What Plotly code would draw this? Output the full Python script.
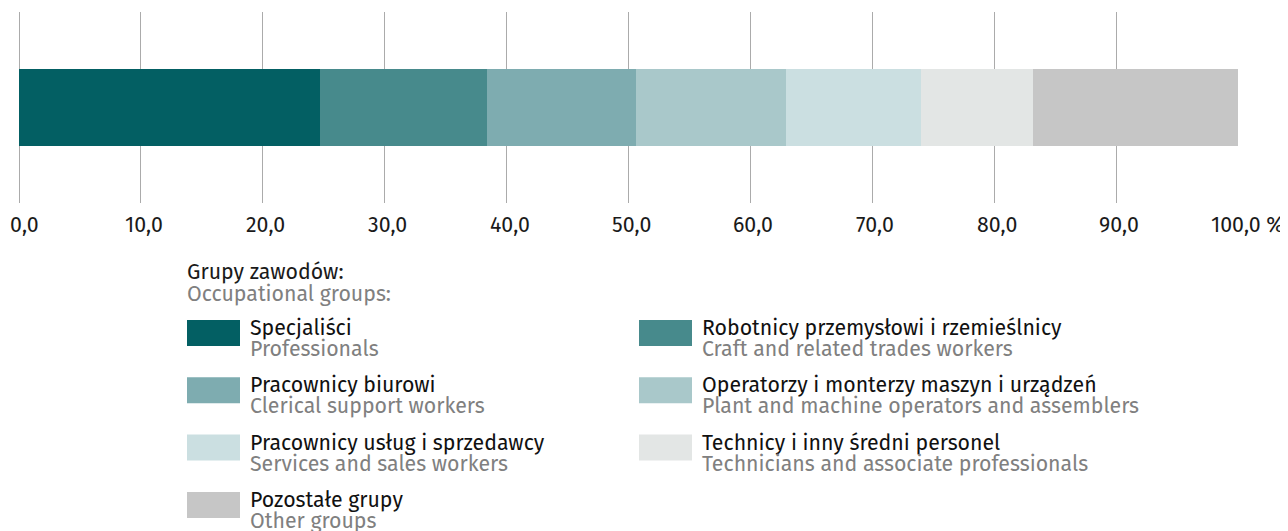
import plotly.graph_objects as go

categories_pl = ["Specjaliści", "Robotnicy przemysłowi i rzemieślnicy", "Pracownicy biurowi",
                 "Operatorzy i monterzy maszyn i urządzeń", "Pracownicy usług i sprzedawcy",
                 "Technicy i inny średni personel", "Pozostałe grupy"]
categories_en = ["Professionals", "Craft and related trades workers", "Clerical support workers",
                 "Plant and machine operators and assemblers", "Services and sales workers",
                 "Technicians and associate professionals", "Other groups"]
values = [24.7, 13.7, 12.2, 12.3, 11.1, 9.2, 16.8]
colors = ["#035f63", "#478a8c", "#7eacb0", "#a9c8ca", "#cbdfe1", "#e3e6e5", "#c6c6c6"]
tick_vals = [0, 10, 20, 30, 40, 50, 60, 70, 80, 90, 100]
tick_text = ["0,0", "10,0", "20,0", "30,0", "40,0", "50,0", "60,0", "70,0", "80,0", "90,0", "100,0 %"]
legend_title_pl = "Grupy zawodów:"
legend_title_en = "Occupational groups:"

FONT = "Fira Sans, Open Sans, sans-serif"
FS = 21.3
OFF = 8  # page body margin
W, H = 1280, 523
ML, MR, MT, MB = 19 - OFF, 50, 12 - OFF, 328
PW, PH = W - ML - MR, H - MT - MB

fig = go.Figure()
for pl, en, v, c in zip(categories_pl, categories_en, values, colors):
    fig.add_trace(go.Bar(
        x=[v], y=["all"], orientation="h", name=pl,
        marker=dict(color=c, line=dict(width=0)),
        width=0.4, showlegend=False,
        hovertemplate=pl + " / " + en + ": %{x:.1f}%<extra></extra>",
    ))

# helpers: window pixels -> paper fractions
def px_x(p):
    return (p - OFF - ML) / PW

def px_y(p):
    return 1 - (p - OFF - MT) / PH

shapes = []
annotations = []

# tick labels placed on the x axis scale (as annotations so the first label is not clipped)
for i, (tv, tt) in enumerate(zip(tick_vals, tick_text)):
    if i == 0:
        shift = 5
    elif i == len(tick_vals) - 1:
        shift = 9
    else:
        shift = 3
    annotations.append(dict(x=tv, xref="x", y=px_y(225), yref="paper", text=tt,
                            showarrow=False, xanchor="center", yanchor="middle", xshift=shift,
                            font=dict(family=FONT, size=FS, color="#1a1a1a")))

annotations.append(dict(x=px_x(187), y=px_y(272), xref="paper", yref="paper", text=legend_title_pl,
                        showarrow=False, xanchor="left", yanchor="middle", xshift=-2,
                        font=dict(family=FONT, size=FS, color="#1a1a1a")))
annotations.append(dict(x=px_x(187), y=px_y(294), xref="paper", yref="paper", text=legend_title_en,
                        showarrow=False, xanchor="left", yanchor="middle", xshift=-2,
                        font=dict(family=FONT, size=FS, color="#808080")))
col_x = [187, 639]
row_y0 = 320
row_step = 57.3
for i, (pl, en, c) in enumerate(zip(categories_pl, categories_en, colors)):
    col = i % 2
    row = i // 2
    x0 = col_x[col]
    y0 = row_y0 + row * row_step
    shapes.append(dict(type="rect", xref="paper", yref="paper",
                       x0=px_x(x0), x1=px_x(x0 + 53), y0=px_y(y0), y1=px_y(y0 + 26),
                       fillcolor=c, line=dict(width=0)))
    annotations.append(dict(x=px_x(x0 + 63), y=px_y(y0 + 8), xref="paper", yref="paper", text=pl,
                            showarrow=False, xanchor="left", yanchor="middle", xshift=-2,
                            font=dict(family=FONT, size=FS, color="#111111")))
    annotations.append(dict(x=px_x(x0 + 63), y=px_y(y0 + 29), xref="paper", yref="paper", text=en,
                            showarrow=False, xanchor="left", yanchor="middle", xshift=-2,
                            font=dict(family=FONT, size=FS, color="#808080")))

fig.update_layout(
    width=W, height=H,
    barmode="stack",
    plot_bgcolor="white", paper_bgcolor="white",
    margin=dict(l=ML, r=MR, t=MT, b=MB, pad=0, autoexpand=False),
    shapes=shapes, annotations=annotations,
    font=dict(family=FONT, size=FS, color="#1a1a1a"),
    xaxis=dict(range=[0, 100], tickvals=tick_vals, showticklabels=False,
               showgrid=True, gridcolor="#ababab", gridwidth=1,
               zeroline=True, zerolinecolor="#ababab", zerolinewidth=1,
               showline=False, ticks="", automargin=False),
    yaxis=dict(showticklabels=False, showgrid=False, zeroline=False, range=[-0.5, 0.5],
               automargin=False),
)

fig.write_html("out.html")
